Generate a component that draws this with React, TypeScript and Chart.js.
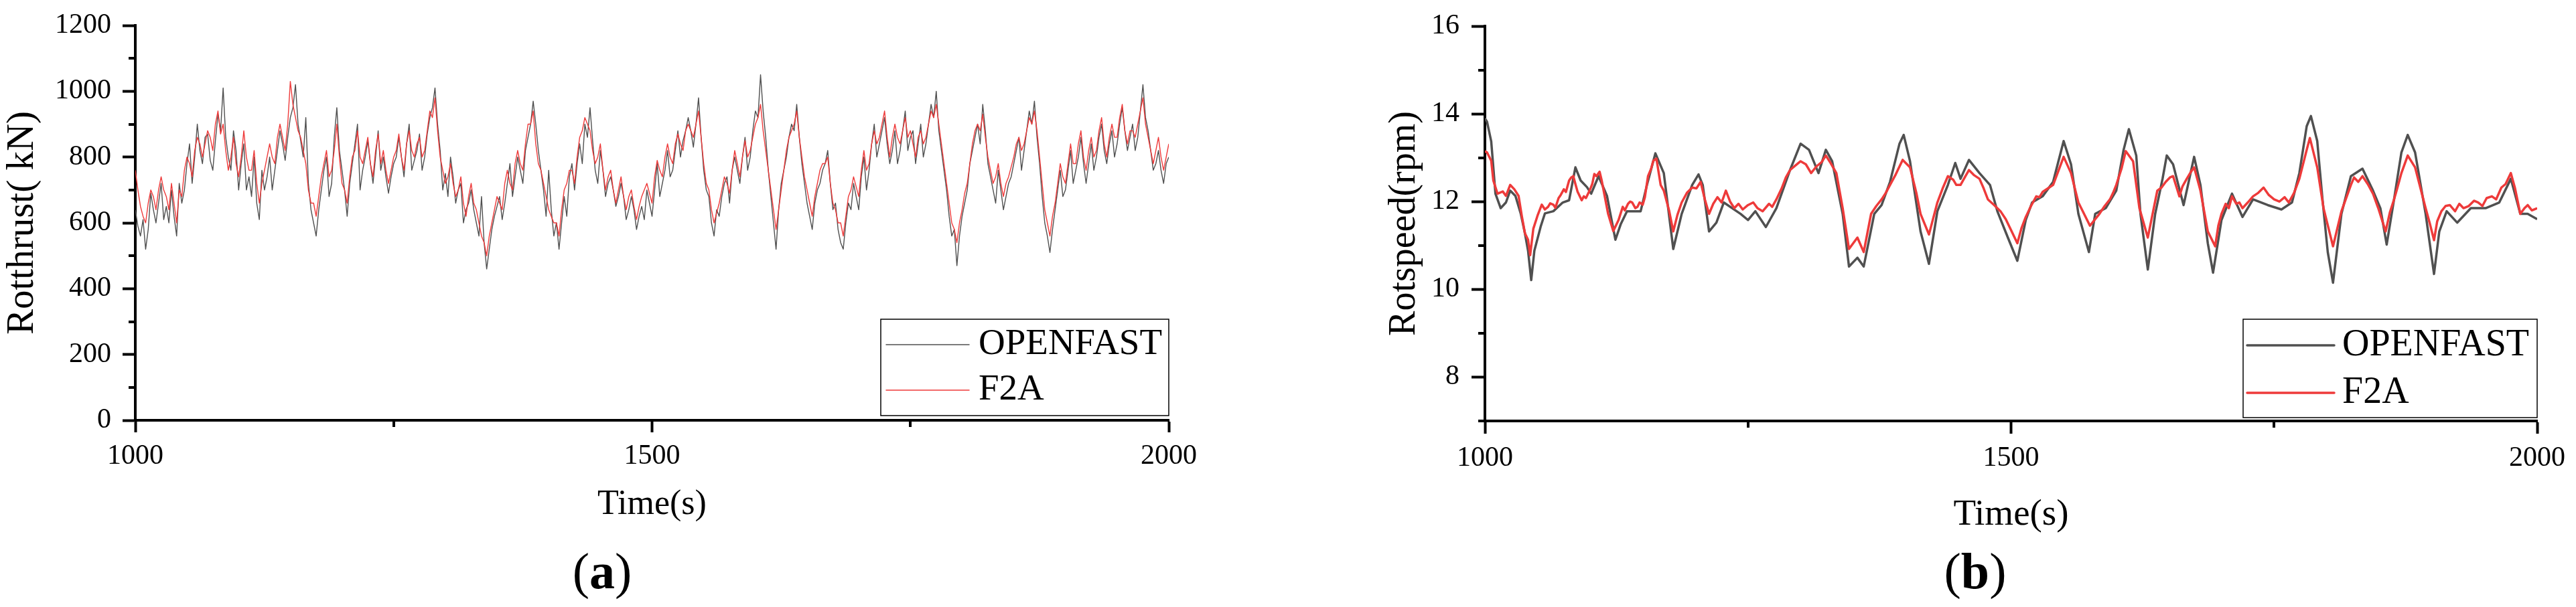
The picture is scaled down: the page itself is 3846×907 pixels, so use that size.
import React, { useEffect, useRef } from 'react';
import { Chart, registerables } from 'chart.js';
Chart.register(...registerables);

const FONT = "'Liberation Serif', 'Times New Roman', Times, serif";
const GRAY = '#505050';
const RED = '#EE3A3A';

// ---------- Panel (a): rotor thrust (kN) ----------
const timeA: number[] = [
  1000,1005,1010,1015,1020,1025,1030,1035,1040,1045,1050,1055,1060,1065,1070,1075,1080,1085,1090,1095,
  1100,1105,1110,1115,1120,1125,1130,1135,1140,1145,1150,1155,1160,1165,1170,1175,1180,1185,1190,1195,
  1200,1205,1210,1215,1220,1225,1230,1235,1240,1245,1250,1255,1260,1265,1270,1275,1280,1285,1290,1295,
  1300,1305,1310,1315,1320,1325,1330,1335,1340,1345,1350,1355,1360,1365,1370,1375,1380,1385,1390,1395,
  1400,1405,1410,1415,1420,1425,1430,1435,1440,1445,1450,1455,1460,1465,1470,1475,1480,1485,1490,1495,
  1500,1505,1510,1515,1520,1525,1530,1535,1540,1545,1550,1555,1560,1565,1570,1575,1580,1585,1590,1595,
  1600,1605,1610,1615,1620,1625,1630,1635,1640,1645,1650,1655,1660,1665,1670,1675,1680,1685,1690,1695,
  1700,1705,1710,1715,1720,1725,1730,1735,1740,1745,1750,1755,1760,1765,1770,1775,1780,1785,1790,1795,
  1800,1805,1810,1815,1820,1825,1830,1835,1840,1845,1850,1855,1860,1865,1870,1875,1880,1885,1890,1895,
  1900,1905,1910,1915,1920,1925,1930,1935,1940,1945,1950,1955,1960,1965,1970,1975,1980,1985,1990,1995,
  2000,
];
const timeAMid: number[] = [
  1002.5,1007.5,1012.5,1017.5,1022.5,1027.5,1032.5,1037.5,1042.5,1047.5,1052.5,1057.5,1062.5,1067.5,1072.5,1077.5,1082.5,1087.5,1092.5,1097.5,
  1102.5,1107.5,1112.5,1117.5,1122.5,1127.5,1132.5,1137.5,1142.5,1147.5,1152.5,1157.5,1162.5,1167.5,1172.5,1177.5,1182.5,1187.5,1192.5,1197.5,
  1202.5,1207.5,1212.5,1217.5,1222.5,1227.5,1232.5,1237.5,1242.5,1247.5,1252.5,1257.5,1262.5,1267.5,1272.5,1277.5,1282.5,1287.5,1292.5,1297.5,
  1302.5,1307.5,1312.5,1317.5,1322.5,1327.5,1332.5,1337.5,1342.5,1347.5,1352.5,1357.5,1362.5,1367.5,1372.5,1377.5,1382.5,1387.5,1392.5,1397.5,
  1402.5,1407.5,1412.5,1417.5,1422.5,1427.5,1432.5,1437.5,1442.5,1447.5,1452.5,1457.5,1462.5,1467.5,1472.5,1477.5,1482.5,1487.5,1492.5,1497.5,
  1502.5,1507.5,1512.5,1517.5,1522.5,1527.5,1532.5,1537.5,1542.5,1547.5,1552.5,1557.5,1562.5,1567.5,1572.5,1577.5,1582.5,1587.5,1592.5,1597.5,
  1602.5,1607.5,1612.5,1617.5,1622.5,1627.5,1632.5,1637.5,1642.5,1647.5,1652.5,1657.5,1662.5,1667.5,1672.5,1677.5,1682.5,1687.5,1692.5,1697.5,
  1702.5,1707.5,1712.5,1717.5,1722.5,1727.5,1732.5,1737.5,1742.5,1747.5,1752.5,1757.5,1762.5,1767.5,1772.5,1777.5,1782.5,1787.5,1792.5,1797.5,
  1802.5,1807.5,1812.5,1817.5,1822.5,1827.5,1832.5,1837.5,1842.5,1847.5,1852.5,1857.5,1862.5,1867.5,1872.5,1877.5,1882.5,1887.5,1892.5,1897.5,
  1902.5,1907.5,1912.5,1917.5,1922.5,1927.5,1932.5,1937.5,1942.5,1947.5,1952.5,1957.5,1962.5,1967.5,1972.5,1977.5,1982.5,1987.5,1992.5,1997.5,
];
const thrustOpenfast: number[] = [
  640,560,520,690,600,720,650,700,560,660,780,720,900,780,870,760,930,1010,800,880,
  700,840,740,800,610,700,800,760,880,790,920,1020,850,920,640,560,700,800,720,950,
  760,620,780,900,760,850,720,880,800,690,780,860,740,900,790,870,800,920,1010,820,
  750,800,660,720,640,700,600,680,460,580,650,610,720,680,800,720,860,970,820,700,
  760,560,520,680,740,700,840,900,950,760,820,680,740,650,720,610,680,580,650,700,
  620,780,720,820,760,880,850,920,830,980,760,680,560,620,720,660,800,720,860,800,
  940,1050,860,680,520,720,800,900,960,780,660,580,700,760,820,640,580,520,660,720,
  640,800,760,900,840,920,780,880,820,940,860,780,900,840,960,1000,820,700,560,470,
  620,700,820,900,960,780,700,760,640,720,780,860,820,940,970,780,600,510,640,760,
  700,820,760,860,720,840,800,900,780,880,840,950,820,900,860,1020,880,760,820,720,
  800,
];
const thrustOpenfastMid: number[] = [
  590,610,580,640,660,610,600,620,720,700,840,800,820,860,790,850,880,860,760,820,
  780,700,680,660,760,740,700,820,840,860,950,900,800,720,600,640,760,680,860,820,
  700,720,840,700,800,780,800,760,740,740,800,800,840,760,820,760,870,950,900,700,
  680,740,700,600,660,640,560,540,520,620,680,660,780,740,760,820,900,900,760,620,
  640,600,600,620,780,780,780,860,850,720,760,720,700,680,680,640,640,620,610,660,
  700,680,760,740,820,800,880,880,900,860,700,600,640,680,740,760,760,800,760,880,
  920,940,760,600,640,760,860,880,860,720,620,660,720,780,720,660,540,600,640,680,
  740,700,840,800,880,840,820,780,880,820,880,840,800,900,920,880,760,620,580,560,
  660,780,860,840,880,740,660,700,680,740,820,760,880,900,860,680,560,580,700,680,
  760,720,800,780,780,760,860,820,840,800,900,880,860,820,940,920,820,780,760,780,
];
const thrustF2A: number[] = [
  760,650,600,700,640,740,680,720,600,680,800,740,860,800,880,820,940,900,760,860,
  740,880,760,820,660,760,840,780,900,820,1030,920,860,780,660,620,740,820,760,900,
  720,660,800,880,780,860,740,870,820,720,800,870,760,880,800,860,820,940,980,800,
  720,780,680,740,620,720,640,560,500,600,680,640,760,700,820,760,900,940,780,720,
  640,600,560,700,760,720,860,920,880,780,840,700,760,660,740,640,700,610,680,720,
  660,790,740,840,780,870,820,900,860,940,780,700,600,660,740,690,820,740,850,820,
  900,960,820,700,580,700,820,880,940,800,700,620,720,780,800,660,600,560,680,740,
  680,820,780,880,860,940,800,900,840,920,880,800,880,860,940,960,840,720,600,540,
  640,720,840,900,930,800,720,780,680,740,800,860,840,920,940,800,640,560,660,780,
  720,840,780,880,760,860,820,920,800,900,860,960,840,880,900,980,860,780,860,760,
  840,
];
const thrustF2AMid: number[] = [
  700,620,660,680,700,700,640,660,700,760,780,820,840,840,860,900,870,820,800,780,
  800,800,760,720,720,800,800,860,860,900,960,880,820,700,660,680,780,740,820,800,
  700,740,820,800,820,780,820,780,760,760,820,800,840,820,840,800,880,920,880,760,
  740,720,700,660,680,660,600,540,560,640,660,720,720,780,780,840,900,840,760,680,
  620,600,640,720,760,800,880,900,820,800,760,740,700,700,680,680,650,650,700,690,
  740,760,800,800,840,840,880,880,900,860,720,640,630,700,720,760,780,800,800,860,
  920,880,760,640,640,760,860,900,860,740,660,680,760,780,720,640,600,620,700,710,
  760,760,840,840,900,860,860,860,880,860,840,860,840,900,920,900,780,660,580,600,
  690,780,880,880,860,760,740,720,720,770,840,820,880,900,880,720,600,620,720,740,
  780,780,840,800,820,800,880,840,860,860,920,880,880,860,940,900,820,820,800,800,
];
const xTicks: number[] = [1000, 1500, 2000];
const xMinorTicks: number[] = [1250, 1750];
const yTicksA: number[] = [0, 200, 400, 600, 800, 1000, 1200];
const yMinorA: number[] = [100, 300, 500, 700, 900, 1100];

// ---------- Panel (b): rotor speed (rpm) ----------
const timeOpenfastB: number[] = [
  1000,1002,1006,1010,1015,1020,1024,1029,1034,1038,1041,1044,1047,1053,1057,1065,1074,1080,1086,1091,
  1097,1101,1108,1116,1120,1124,1129,1135,1141,1148,1154,1162,1170,1179,1187,1197,1203,1207,1213,1220,
  1227,1243,1250,1257,1267,1277,1290,1300,1308,1317,1324,1330,1340,1346,1354,1360,1370,1377,1385,1394,
  1398,1404,1414,1422,1430,1440,1447,1452,1460,1470,1480,1487,1497,1506,1514,1520,1530,1540,1550,1557,
  1564,1574,1580,1590,1600,1607,1612,1619,1623,1630,1637,1644,1648,1654,1659,1664,1674,1680,1687,1692,
  1700,1710,1720,1730,1744,1757,1767,1774,1781,1785,1791,1796,1801,1806,1814,1823,1834,1844,1851,1857,
  1864,1871,1877,1884,1894,1902,1907,1914,1924,1937,1951,1964,1975,1984,1991,2000,
];
const speedOpenfast: number[] = [
  13.9,13.82,13.37,12.18,11.85,11.98,12.25,12.13,11.73,11.28,10.88,10.21,10.88,11.43,11.73,11.78,11.98,12.03,12.78,12.48,
  12.33,12.18,12.58,12.13,11.63,11.13,11.48,11.78,11.78,11.78,12.38,13.1,12.65,10.92,11.72,12.38,12.62,12.38,11.32,11.52,
  11.98,11.72,11.58,11.78,11.42,11.85,12.72,13.32,13.18,12.65,13.18,12.92,11.72,10.52,10.72,10.52,11.72,11.92,12.45,13.32,
  13.52,12.92,11.32,10.58,11.78,12.38,12.88,12.52,12.95,12.65,12.38,11.78,11.18,10.65,11.58,11.98,12.12,12.45,13.38,12.85,
  11.72,10.85,11.72,11.85,12.25,13.18,13.65,13.05,11.72,10.45,11.72,12.52,13.05,12.85,12.38,11.92,13.02,12.38,11.05,10.38,
  11.58,12.18,11.65,12.05,11.92,11.82,11.98,12.65,13.72,13.95,13.38,12.05,10.85,10.15,11.72,12.58,12.75,12.25,11.85,11.02,
  12.05,13.12,13.52,13.12,11.72,10.35,11.32,11.78,11.52,11.85,11.85,11.98,12.52,11.72,11.72,11.6,
];
const timeF2AB: number[] = [
  1000,1002,1006,1008,1012,1017,1020,1024,1028,1032,1035,1038,1041,1043,1046,1050,1054,1060,1065,1070,
  1075,1080,1084,1088,1092,1096,1100,1104,1109,1113,1117,1122,1127,1131,1136,1140,1145,1150,1155,1160,
  1163,1167,1170,1179,1187,1197,1205,1213,1229,1237,1250,1264,1277,1290,1300,1310,1324,1334,1340,1346,
  1354,1360,1367,1377,1385,1397,1404,1414,1422,1430,1440,1452,1460,1470,1478,1490,1506,1514,1524,1530,
  1540,1550,1557,1564,1575,1584,1594,1600,1609,1616,1622,1630,1639,1647,1654,1660,1667,1674,1680,1687,
  1694,1700,1704,1707,1710,1714,1720,1730,1740,1750,1764,1774,1781,1784,1791,1797,1806,1814,1823,1834,
  1844,1856,1864,1871,1877,1884,1894,1902,1909,1917,1930,1944,1957,1966,1975,1984,1991,2000,
];
const speedF2A: number[] = [
  13.15,13.12,12.93,12.48,12.18,12.23,12.13,12.38,12.28,12.13,11.68,11.28,11.13,10.78,11.38,11.68,11.93,11.88,11.93,12.08,
  12.28,12.48,12.58,12.23,12.03,12.08,12.28,12.63,12.68,12.23,11.73,11.33,11.58,11.88,11.95,11.98,11.88,11.93,12.58,12.93,
  12.98,12.38,12.25,11.32,11.98,12.32,12.45,11.72,12.25,11.85,11.92,11.78,12.05,12.72,12.92,12.65,13.05,12.65,11.85,10.92,
  11.18,10.85,11.72,12.05,12.38,12.95,12.78,11.72,11.25,11.98,12.58,12.38,12.72,12.52,12.05,11.78,11.05,11.65,12.12,12.22,
  12.38,13.02,12.65,11.98,11.45,11.72,12.05,12.38,13.15,12.92,11.85,11.18,12.25,12.45,12.58,12.12,12.52,12.78,12.25,11.32,
  10.98,11.72,11.95,11.85,12.12,11.95,11.85,12.12,12.32,12.05,11.98,12.52,13.18,13.45,12.78,11.85,10.98,11.78,12.38,12.58,
  12.18,11.32,12.05,12.65,13.05,12.78,11.85,11.12,11.78,11.92,11.85,11.98,12.12,12.32,12.65,11.72,11.92,11.85,
];
// extra F2A readings in the flatter stretches (small ripple)
const timeF2ABExtra: number[] = [
  1057,1062,1067,1072,1077,1082,1086,1094,1098,1102,1106,1111,1133,1138,1143,1147,1152,1158,1175,1183,
  1192,1201,1209,1217,1221,1225,1233,1241,1245,1255,1259,1270,1273,1282,1286,1295,1305,1315,1320,1328,
  1372,1381,1390,1393,1410,1435,1445,1448,1456,1465,1474,1484,1495,1500,1510,1519,1527,1535,1545,1580,
  1589,1597,1605,1643,1651,1657,1663,1671,1697,1717,1725,1735,1745,1755,1760,1769,1826,1830,1839,1849,
  1860,1867,1898,1905,1913,1922,1926,1935,1940,1948,1952,1961,1970,1979,1988,1995,
];
const speedF2AExtra: number[] = [
  11.82,11.96,11.86,12.15,12.22,12.55,12.4,12.12,12.18,12.4,12.58,12.48,11.8,12.0,11.85,11.98,12.1,12.75,11.8,11.7,
  12.2,12.3,12.05,11.95,12.1,11.98,12.0,11.95,11.82,11.98,11.85,11.95,11.88,12.3,12.55,12.82,12.85,12.8,12.9,12.9,
  11.9,12.2,12.6,12.75,12.2,12.3,12.5,12.38,12.55,12.6,12.3,11.92,11.6,11.35,11.4,11.9,12.1,12.3,12.7,11.6,
  11.9,12.2,12.75,12.32,12.55,12.35,12.35,12.68,11.45,11.98,11.98,12.2,12.15,12.0,12.1,12.2,12.55,12.45,12.4,11.85,
  11.75,12.3,11.5,11.55,11.9,11.78,11.95,11.9,12.02,11.9,12.08,12.05,12.4,12.3,11.85,11.8,
];
const yTicksB: number[] = [8, 10, 12, 14, 16];
const yMinorB: number[] = [7, 9, 11, 13, 15];

// ---------- helpers ----------
function toPoints(ts: number[], vs: number[], ts2: number[] = [], vs2: number[] = []) {
  const pts = ts.map((t, i) => ({ x: t, y: vs[i] }));
  ts2.forEach((t, i) => pts.push({ x: t, y: vs2[i] }));
  return pts.sort((p, q) => p.x - q.x);
}

const minorTicksPlugin = {
  id: 'minorTicks',
  afterDraw(chart: any, _args: any, o: any) {
    const { ctx, chartArea, scales } = chart;
    ctx.save();
    ctx.strokeStyle = '#000';
    ctx.lineWidth = o.width;
    ctx.beginPath();
    for (const v of o.x || []) {
      const px = Math.round(scales.x.getPixelForValue(v));
      ctx.moveTo(px, chartArea.bottom + o.border / 2);
      ctx.lineTo(px, chartArea.bottom + o.border / 2 + o.len);
    }
    for (const v of o.y || []) {
      const py = Math.round(scales.y.getPixelForValue(v));
      ctx.moveTo(chartArea.left - o.border / 2, py);
      ctx.lineTo(chartArea.left - o.border / 2 - o.len, py);
    }
    ctx.stroke();
    ctx.restore();
  },
};

const boxLegendPlugin = {
  id: 'boxLegend',
  afterDraw(chart: any, _args: any, o: any) {
    const { ctx, chartArea: ca } = chart;
    const L = ca.right - o.boxWidth;
    const T = ca.bottom - o.bottomGap - o.boxHeight;
    ctx.save();
    ctx.fillStyle = '#fff';
    ctx.fillRect(L, T, o.boxWidth, o.boxHeight);
    ctx.lineWidth = o.borderWidth;
    ctx.strokeStyle = '#000';
    ctx.strokeRect(L, T, o.boxWidth, o.boxHeight);
    ctx.font = `${o.fontSize}px ${FONT}`;
    ctx.textBaseline = 'middle';
    ctx.textAlign = 'left';
    ctx.fillStyle = '#000';
    chart.data.datasets.forEach((ds: any, i: number) => {
      const y = T + o.rowY[i];
      ctx.strokeStyle = ds.borderColor;
      ctx.lineWidth = o.lineWidth;
      ctx.lineCap = 'round';
      ctx.beginPath();
      ctx.moveTo(L + o.lineStart, y);
      ctx.lineTo(L + o.lineEnd, y);
      ctx.stroke();
      ctx.fillText(ds.label, L + o.textX, y + o.textDy);
    });
    ctx.restore();
  },
};

function makeConfig(p: any): any {
  return {
    type: 'line',
    data: {
      datasets: [
        {
          label: 'OPENFAST',
          data: p.openData,
          borderColor: GRAY,
          borderWidth: p.lineWidth,
          pointRadius: 0,
          tension: 0,
          order: 2,
          borderJoinStyle: 'round',
        },
        {
          label: 'F2A',
          data: p.f2aData,
          borderColor: RED,
          borderWidth: p.lineWidth,
          pointRadius: 0,
          tension: 0,
          order: 1,
          borderJoinStyle: 'round',
        },
      ],
    },
    options: {
      responsive: false,
      animation: false,
      events: [],
      parsing: false,
      layout: { padding: { left: 0, top: p.padTop, right: p.padRight, bottom: 0 } },
      plugins: {
        legend: { display: false },
        tooltip: { enabled: false },
        minorTicks: { x: xMinorTicks, y: p.yMinor, len: 8, width: 4, border: 4 },
        boxLegend: p.legend,
      },
      scales: {
        x: {
          type: 'linear',
          min: 1000,
          max: 2000,
          afterBuildTicks: (s: any) => { s.ticks = xTicks.map((v) => ({ value: v })); },
          afterFit: (s: any) => { s.height = p.xHeight; },
          grid: { drawOnChartArea: false, drawTicks: true, tickLength: p.xTickLen, tickWidth: 4, tickColor: '#000' },
          border: { display: true, width: 4, color: '#000' },
          ticks: {
            color: '#000',
            font: { family: FONT, size: 42, lineHeight: 1 },
            padding: p.xTickPad,
            maxRotation: 0,
            autoSkip: false,
            callback: (v: any) => `${v}`,
          },
          title: {
            display: true,
            text: 'Time(s)',
            color: '#000',
            font: { family: FONT, size: p.xTitleSize, lineHeight: 1.2 },
            padding: { top: 0, bottom: p.xTitlePadBottom },
          },
        },
        y: {
          type: 'linear',
          min: p.yMin,
          max: p.yMax,
          afterBuildTicks: (s: any) => { s.ticks = p.yTicks.map((v: number) => ({ value: v })); },
          afterFit: (s: any) => { s.width = p.yWidth; },
          grid: { drawOnChartArea: false, drawTicks: true, tickLength: p.yTickLen, tickWidth: 4, tickColor: '#000' },
          border: { display: true, width: 4, color: '#000' },
          ticks: {
            color: '#000',
            font: { family: FONT, size: 42, lineHeight: 1 },
            padding: p.yTickPad,
            autoSkip: false,
            callback: (v: any) => `${v}`,
          },
          title: {
            display: true,
            text: p.yTitle,
            color: '#000',
            font: { family: FONT, size: p.yTitleSize, lineHeight: 1.2 },
            padding: { top: p.yTitlePadTop, bottom: 0 },
          },
        },
      },
    },
    plugins: [minorTicksPlugin, boxLegendPlugin],
  };
}

const cfgA = {
  openData: toPoints(timeA, thrustOpenfast, timeAMid, thrustOpenfastMid),
  f2aData: toPoints(timeA, thrustF2A, timeAMid, thrustF2AMid),
  lineWidth: 1.4, padTop: 38, padRight: 155, xHeight: 279, yWidth: 202,
  yMin: 0, yMax: 1200, yTicks: yTicksA, yMinor: yMinorA,
  xTickLen: 18, xTickPad: 15, yTickLen: 19, yTickPad: 17,
  xTitleSize: 52, xTitlePadBottom: 121,
  yTitle: 'Rotthrust( kN)', yTitleSize: 57, yTitlePadTop: 0,
  legend: { boxWidth: 430, boxHeight: 144, bottomGap: 7, lineStart: 8, lineEnd: 132, textX: 146, rowY: [38, 106], fontSize: 55, borderWidth: 1.5, lineWidth: 1.5, textDy: 0 },
};
const cfgB = {
  openData: toPoints(timeOpenfastB, speedOpenfast),
  f2aData: toPoints(timeF2AB, speedF2A, timeF2ABExtra, speedF2AExtra),
  lineWidth: 3.5, padTop: 24, padRight: 52, xHeight: 278, yWidth: 267,
  yMin: 7, yMax: 16, yTicks: yTicksB, yMinor: yMinorB,
  xTickLen: 19, xTickPad: 16, yTickLen: 20, yTickPad: 18,
  xTitleSize: 55, xTitlePadBottom: 104,
  yTitle: 'Rotspeed(rpm)', yTitleSize: 56, yTitlePadTop: 114,
  legend: { boxWidth: 439, boxHeight: 147, bottomGap: 5, lineStart: 6, lineEnd: 136, textX: 148, rowY: [39, 110], fontSize: 56, borderWidth: 1.5, lineWidth: 3.5, textDy: 0 },
};

const labelStyle: React.CSSProperties = {
  position: 'absolute',
  top: 815,
  transform: 'translateX(-50%)',
  fontFamily: FONT,
  fontSize: 76,
  lineHeight: '76px',
  color: '#000',
  whiteSpace: 'nowrap',
};

export default function App() {
  const refA = useRef<HTMLCanvasElement | null>(null);
  const refB = useRef<HTMLCanvasElement | null>(null);

  useEffect(() => {
    const a = new Chart(refA.current as HTMLCanvasElement, makeConfig(cfgA));
    const b = new Chart(refB.current as HTMLCanvasElement, makeConfig(cfgB));
    return () => {
      a.destroy();
      b.destroy();
    };
  }, []);

  return (
    <div style={{ position: 'absolute', left: 0, top: 0, width: 3846, height: 907, background: '#fff', overflow: 'hidden' }}>
      <canvas ref={refA} width={1900} height={907} style={{ position: 'absolute', left: 0, top: 0 }} />
      <canvas ref={refB} width={1896} height={907} style={{ position: 'absolute', left: 1950, top: 0 }} />
      <div style={{ ...labelStyle, left: 899 }}>(<b>a</b>)</div>
      <div style={{ ...labelStyle, left: 2949 }}>(<b>b</b>)</div>
    </div>
  );
}
